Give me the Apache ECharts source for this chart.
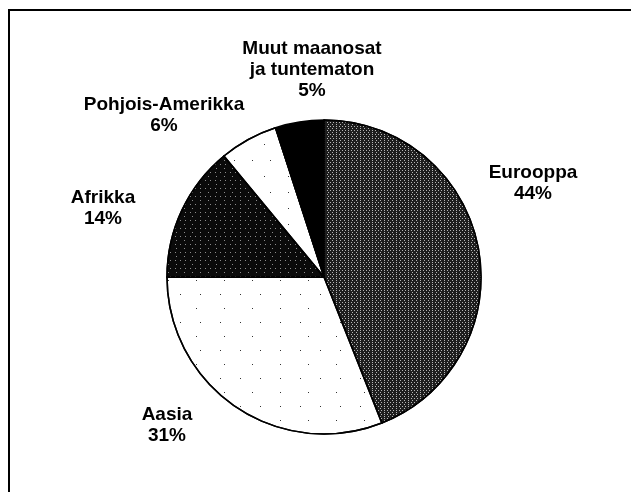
<!DOCTYPE html>
<html>
<head>
<meta charset="utf-8">
<script src="https://cdn.jsdelivr.net/npm/echarts@6.0.0/dist/echarts.min.js"></script>
<style>
  html, body { margin: 0; padding: 0; background: #fff; }
  #chart { width: 631px; height: 492px; }
</style>
</head>
<body>
<div id="chart"></div>
<script>
// maanosat, myötäpäivään klo 12:sta
const categories = ['Eurooppa', 'Aasia', 'Afrikka', 'Pohjois-Amerikka', 'Muut maanosat\nja tuntematon'];
const shares = [44, 31, 14, 6, 5];

// rasterit: pohjaväri + pisteet
const fills = ['#1e1e1e', '#ffffff', '#0a0a0a', '#ffffff', '#000000'];
const decals = [
  { symbol: 'rect', symbolSize: 1, color: '#b4b4b4', dashArrayX: [[1, 2], [1, 3]], dashArrayY: [1, 1] },
  { symbol: 'rect', symbolSize: 1, color: '#333333', dashArrayX: [[1, 19], [1, 27]], dashArrayY: [1, 13] },
  { symbol: 'rect', symbolSize: 1, color: '#8c8c8c', dashArrayX: [[1, 4], [1, 7]], dashArrayY: [1, 3] },
  { symbol: 'rect', symbolSize: 1, color: '#333333', dashArrayX: [[1, 23], [1, 17]], dashArrayY: [1, 15] },
  null
];
// tekstien keskipisteet
const labelPos = [[533, 183], [167, 425], [103, 208], [164, 115], [312, 70]];

const chart = echarts.init(document.getElementById('chart'));

const data = categories.map((name, i) => {
  const item = { name: name, value: shares[i], itemStyle: { color: fills[i] } };
  if (decals[i]) item.itemStyle.decal = decals[i];
  return item;
});

chart.setOption({
  animation: false,
  backgroundColor: '#fff',
  graphic: [{
    type: 'polyline',
    shape: { points: [[9, 492], [9, 10], [631, 10]] },
    style: { stroke: '#000', lineWidth: 2, fill: null }
  }],
  series: [{
    type: 'pie',
    center: [324, 277],
    radius: 157,
    startAngle: 90,
    clockwise: true,
    silent: true,
    itemStyle: { borderColor: '#000', borderWidth: 1.5 },
    label: {
      show: true,
      position: 'outside',
      overflow: 'none',
      formatter: p => p.name + '\n' + p.value + '%',
      fontFamily: '"Liberation Sans", Arial, Helvetica, sans-serif',
      fontWeight: 'bold',
      fontSize: 19,
      lineHeight: 21,
      color: '#000',
      align: 'center'
    },
    labelLine: { show: false },
    labelLayout: params => {
      const p = labelPos[params.dataIndex];
      return { x: p[0], y: p[1], align: 'center', verticalAlign: 'middle' };
    },
    data: data
  }]
});
</script>
</body>
</html>
